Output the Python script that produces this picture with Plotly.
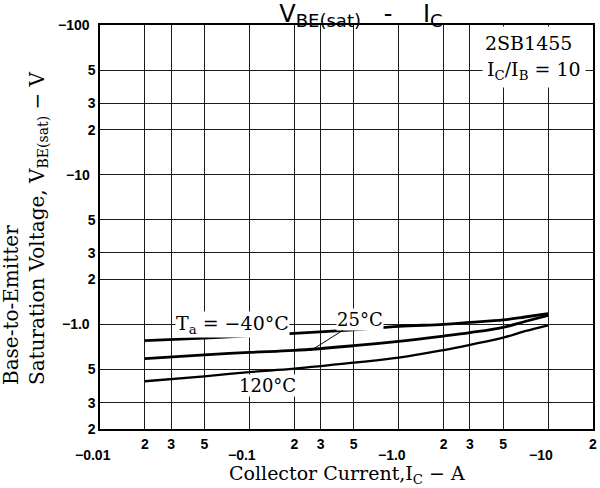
import numpy as np
import plotly.graph_objects as go

# ---- data ----
ic = [0.02, 0.05, 0.1, 0.2, 0.5, 1, 2, 3, 5, 7, 10]
vbe_m40 = [0.78, 0.81, 0.84, 0.87, 0.92, 0.97, 1.0, 1.03, 1.07, 1.12, 1.18]
vbe_25 = [0.59, 0.625, 0.65, 0.67, 0.72, 0.77, 0.835, 0.88, 0.955, 1.045, 1.15]
vbe_120 = [0.417, 0.45, 0.48, 0.506, 0.555, 0.60, 0.674, 0.73, 0.815, 0.90, 0.985]

x_tick_vals = [0.02, 0.03, 0.05, 0.2, 0.3, 0.5, 2, 3, 5, 20]
x_tick_text = ["2", "3", "5", "2", "3", "5", "2", "3", "5", "2"]
x_decade_vals = [0.01, 0.1, 1, 10]
x_decade_text = ["−0.01", "−0.1", "−1.0", "−10"]

y_tick_vals = [0.2, 0.3, 0.5, 2, 3, 5, 20, 30, 50]
y_tick_text = ["2", "3", "5", "2", "3", "5", "2", "3", "5"]
y_decade_vals = [1, 10, 100]
y_decade_text = ["−1.0", "−10", "−100"]

SERIF = "DejaVu Serif"
SANS = "Liberation Sans"
NB = "\u00a0"
GRID = "#1a1a1a"
tickfont = dict(family=SANS, size=14, color="black", weight="bold")

fig = go.Figure()
for ys, w in [(vbe_m40, 2.8), (vbe_25, 2.8), (vbe_120, 2.3)]:
    fig.add_trace(go.Scatter(x=ic, y=ys, mode="lines",
                             line=dict(color="black", width=w, shape="spline", smoothing=1.1),
                             showlegend=False, hoverinfo="skip"))

axis_common = dict(type="log", showgrid=True, gridcolor=GRID, gridwidth=1,
                   showline=True, linecolor="black", linewidth=1.5, mirror=True,
                   ticks="", zeroline=False, tickfont=tickfont, tickmode="array")

fig.update_xaxes(range=[np.log10(0.01), np.log10(20)], tickvals=x_tick_vals,
                 ticktext=x_tick_text, ticklabelstandoff=1,
                 minor=dict(tickmode="array", tickvals=x_decade_vals, showgrid=True,
                            gridcolor=GRID, gridwidth=1, ticks=""),
                 **axis_common)
fig.update_yaxes(range=[np.log10(0.2), np.log10(100)], tickvals=y_tick_vals,
                 ticktext=y_tick_text, ticklabelstandoff=0,
                 minor=dict(tickmode="array", tickvals=y_decade_vals, showgrid=True,
                            gridcolor=GRID, gridwidth=1, ticks=""),
                 **axis_common)

ann = []
# decade labels on x axis (lower row)
for v, t in zip(x_decade_vals, x_decade_text):
    ann.append(dict(x=np.log10(v), y=-0.064, xref="x", yref="paper", text=t,
                    showarrow=False, xanchor="center", yanchor="middle", xshift=-7,
                    font=tickfont))
# decade labels on y axis (shifted left)
for v, t in zip(y_decade_vals, y_decade_text):
    ann.append(dict(x=0, y=np.log10(v), xref="paper", yref="y", text=t,
                    showarrow=False, xanchor="right", yanchor="middle", xshift=-8,
                    font=tickfont))

# axis titles
ann.append(dict(x=0.5, y=-0.112, xref="paper", yref="paper",
                text="Collector Current,I<sub>C</sub> − A", showarrow=False,
                xanchor="center", yanchor="middle",
                font=dict(family=SERIF, size=19, color="black")))
ann.append(dict(x=-0.152, y=0.104, xref="paper", yref="paper",
                text="Base-to-Emitter<br>Saturation Voltage, V<sub>BE(sat)</sub> − V",
                showarrow=False, textangle=-90, align="left",
                xanchor="center", yanchor="bottom",
                font=dict(family=SERIF, size=20, color="black")))

# curve labels
ann.append(dict(x=np.log10(0.0766), y=np.log10(1.0), xref="x", yref="y",
                text="T<sub>a</sub> = −40°C", showarrow=False, bgcolor="white",
                xanchor="center", yanchor="middle", borderpad=0,
                font=dict(family=SERIF, size=19, color="black")))
ann.append(dict(x=np.log10(0.259), y=np.log10(0.67), xref="x", yref="y",
                text="25°C", showarrow=True, ax=49, ay=-31, arrowhead=0,
                arrowwidth=1, arrowcolor="black", bgcolor="white", borderpad=0,
                font=dict(family=SERIF, size=18, color="black")))
ann.append(dict(x=np.log10(0.133), y=np.log10(0.392), xref="x", yref="y",
                text="120°C", showarrow=False, bgcolor="white", borderpad=0,
                xanchor="center", yanchor="middle",
                font=dict(family=SERIF, size=18, color="black")))

# device info
ann.append(dict(x=(578 - 100) / 493, y=(429 - 43) / 404, xref="paper", yref="paper",
                text="2SB1455", showarrow=False, xanchor="right", yanchor="middle",
                bgcolor="white", borderpad=5,
                font=dict(family=SERIF, size=19, color="black")))
ann.append(dict(x=(586 - 100) / 493, y=(429 - 70) / 404, xref="paper", yref="paper",
                text="I<sub>C</sub>/I<sub>B</sub> = 10",
                showarrow=False, xanchor="right", yanchor="middle", bgcolor="white",
                borderpad=4, font=dict(family=SERIF, size=19, color="black")))

title_text = ("V<sub><span style='font-size:18px'>BE(sat)</span></sub>" + NB * 3 + "-" +
              NB * 4 + "I<sub><span style='font-size:18px'>C</span></sub>")

fig.update_layout(
    width=600, height=488,
    margin=dict(l=100, r=7, t=25, b=59, autoexpand=False),
    paper_bgcolor="white", plot_bgcolor="white",
    title=dict(text=title_text,
               x=361 / 600, xref="container", xanchor="center",
               y=1 - 14 / 488, yref="container", yanchor="middle",
               font=dict(family="DejaVu Sans", size=24, color="black")),
    annotations=ann,
)

fig.write_html("out.html")
